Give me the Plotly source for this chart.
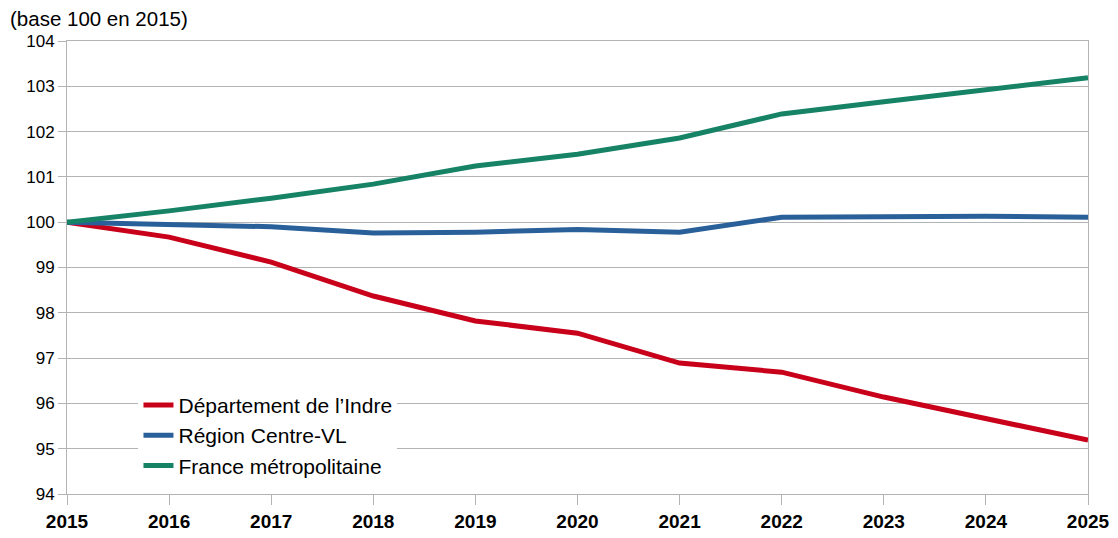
import plotly.graph_objects as go

years = [2015, 2016, 2017, 2018, 2019, 2020, 2021, 2022, 2023, 2024, 2025]
indre = [100, 99.67, 99.12, 98.37, 97.82, 97.55, 96.89, 96.69, 96.14, 95.67, 95.19]
centre = [100, 99.96, 99.90, 99.76, 99.78, 99.84, 99.78, 100.11, 100.12, 100.13, 100.11]
france = [100, 100.25, 100.53, 100.84, 101.24, 101.50, 101.86, 102.39, 102.66, 102.93, 103.19]

series = [
    ("Département de l’Indre", indre, "#c9001a"),
    ("Région Centre-VL", centre, "#2a6099"),
    ("France métropolitaine", france, "#168266"),
]

fig = go.Figure()
for name, vals, color in series:
    fig.add_trace(go.Scatter(
        x=years, y=vals, mode="lines", name=name,
        line=dict(color=color, width=5),
    ))

# page has an 8px body margin, so the figure is sized/offset to compensate
fig.update_layout(
    width=1110, height=530,
    margin=dict(l=59, r=30, t=33, b=44),
    plot_bgcolor="white", paper_bgcolor="white",
    font=dict(family="Liberation Sans, Arial, sans-serif", color="black"),
    showlegend=True,
    legend=dict(
        x=0.07, y=0.241, xanchor="left", yanchor="top",
        bgcolor="white", font=dict(size=21),
        tracegroupgap=0, itemsizing="constant",
    ),
    annotations=[dict(
        text="(base 100 en 2015)", xref="paper", yref="paper",
        x=-0.0578, y=1.0486, xanchor="left", yanchor="middle",
        showarrow=False, font=dict(size=20.5),
    )],
)

fig.update_xaxes(
    range=[2015, 2025], tickmode="array", tickvals=years,
    ticktext=[str(y) for y in years],
    tickfont=dict(size=19, family="Liberation Sans, Arial, sans-serif", weight="bold"),
    ticks="outside", ticklen=10, tickcolor="#b3b3b3",
    showgrid=False, showline=True, linecolor="#b3b3b3", mirror=True,
    zeroline=False, automargin=False,
)
fig.update_yaxes(
    range=[94, 104], dtick=1, tickfont=dict(size=17),
    ticks="outside", ticklen=8, tickcolor="#b3b3b3",
    showgrid=True, gridcolor="#b3b3b3", gridwidth=1,
    showline=True, linecolor="#b3b3b3", mirror=True, zeroline=False,
    automargin=False,
)

fig.write_html("out.html")
